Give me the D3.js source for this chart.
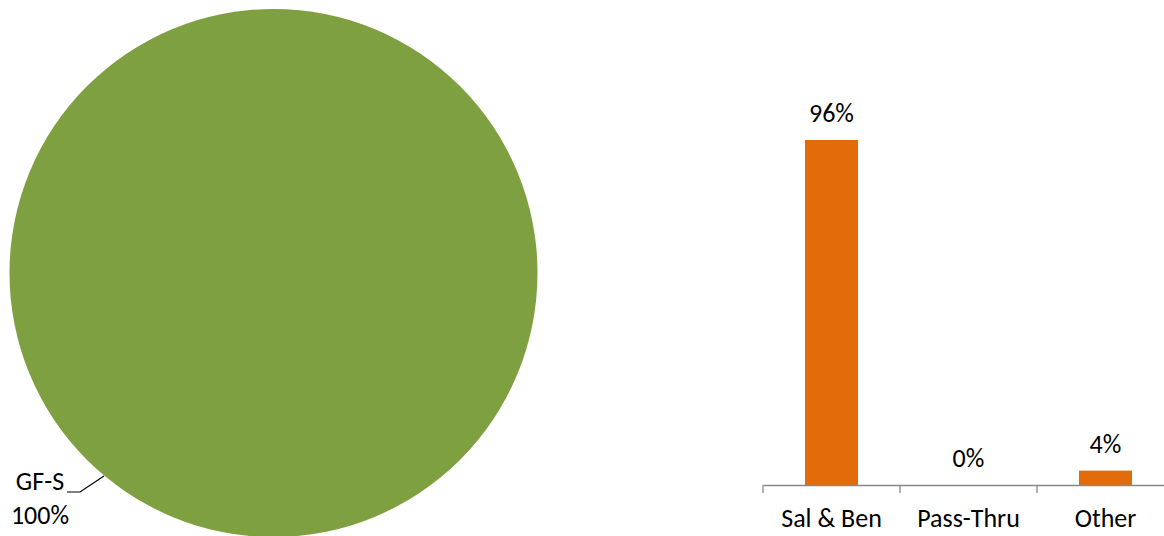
<!DOCTYPE html>
<html>
<head>
<meta charset="utf-8">
<script src="https://cdn.jsdelivr.net/npm/d3@7"></script>
<style>
  body { margin: 0; background: #fff; }
  svg { display: block; font-family: Carlito, "Open Sans", "Liberation Sans", sans-serif; }
</style>
</head>
<body>
<svg id="chart" width="1164" height="536"></svg>
<script>
// pie data
const pieLabels = ["GF-S"];
const pieValues = [100];
// bar data
const barCategories = ["Sal & Ben", "Pass-Thru", "Other"];
const barValues = [96, 0, 4];

const svg = d3.select("#chart");
const fontSize = "26px";

// Pie
const cx = 273.5, cy = 273, r = 264;
const pie = d3.pie().sort(null)(pieValues);
const arc = d3.arc().innerRadius(0).outerRadius(r);
const pieG = svg.append("g").attr("transform", `translate(${cx},${cy})`);
pieG.selectAll("path")
  .data(pie)
  .enter()
  .append("path")
  .attr("d", arc)
  .attr("fill", "#7fa040");

// label with leader line
svg.append("polyline")
  .attr("points", "67,492 80,492 104,476")
  .attr("fill", "none")
  .attr("stroke", "#000")
  .attr("stroke-width", 1.2);
svg.append("text")
  .attr("x", 40).attr("y", 490)
  .attr("text-anchor", "middle")
  .style("font-size", fontSize)
  .text(pieLabels[0]);
svg.append("text")
  .attr("x", 40).attr("y", 524)
  .attr("text-anchor", "middle")
  .style("font-size", fontSize)
  .text(pieValues[0] + "%");

// Bars
const axisY = 485;
const x = d3.scaleBand().domain(barCategories).range([763, 1174]).paddingInner(0).paddingOuter(0);
const y = d3.scaleLinear().domain([0, 100]).range([axisY, axisY - 359.4]);
const barW = 53;

svg.selectAll(".bar")
  .data(barValues)
  .enter()
  .append("rect")
  .attr("class", "bar")
  .attr("x", (d, i) => x(barCategories[i]) + x.bandwidth() / 2 - barW / 2)
  .attr("y", d => y(d))
  .attr("width", barW)
  .attr("height", d => axisY - y(d))
  .attr("fill", "#e36c0a");

svg.selectAll(".val")
  .data(barValues)
  .enter()
  .append("text")
  .attr("class", "val")
  .attr("x", (d, i) => x(barCategories[i]) + x.bandwidth() / 2)
  .attr("y", d => y(d) - 18)
  .attr("text-anchor", "middle")
  .style("font-size", fontSize)
  .text(d => d + "%");

const xAxis = d3.axisBottom(x).tickSize(0).tickSizeOuter(0);
const axisG = svg.append("g")
  .attr("transform", `translate(0,${axisY})`)
  .call(xAxis);
axisG.select(".domain").attr("stroke", "#888").attr("stroke-width", 1.3);
axisG.selectAll(".tick text")
  .attr("dy", 0)
  .attr("y", 42)
  .style("font-size", fontSize)
  .style("font-family", "Carlito, 'Open Sans', 'Liberation Sans', sans-serif")
  .attr("fill", "#000");
// tick marks between categories
svg.selectAll(".sep")
  .data(barCategories)
  .enter()
  .append("line")
  .attr("class", "sep")
  .attr("x1", d => x(d))
  .attr("x2", d => x(d))
  .attr("y1", axisY)
  .attr("y2", axisY + 8)
  .attr("stroke", "#888")
  .attr("stroke-width", 1.3);
</script>
</body>
</html>
